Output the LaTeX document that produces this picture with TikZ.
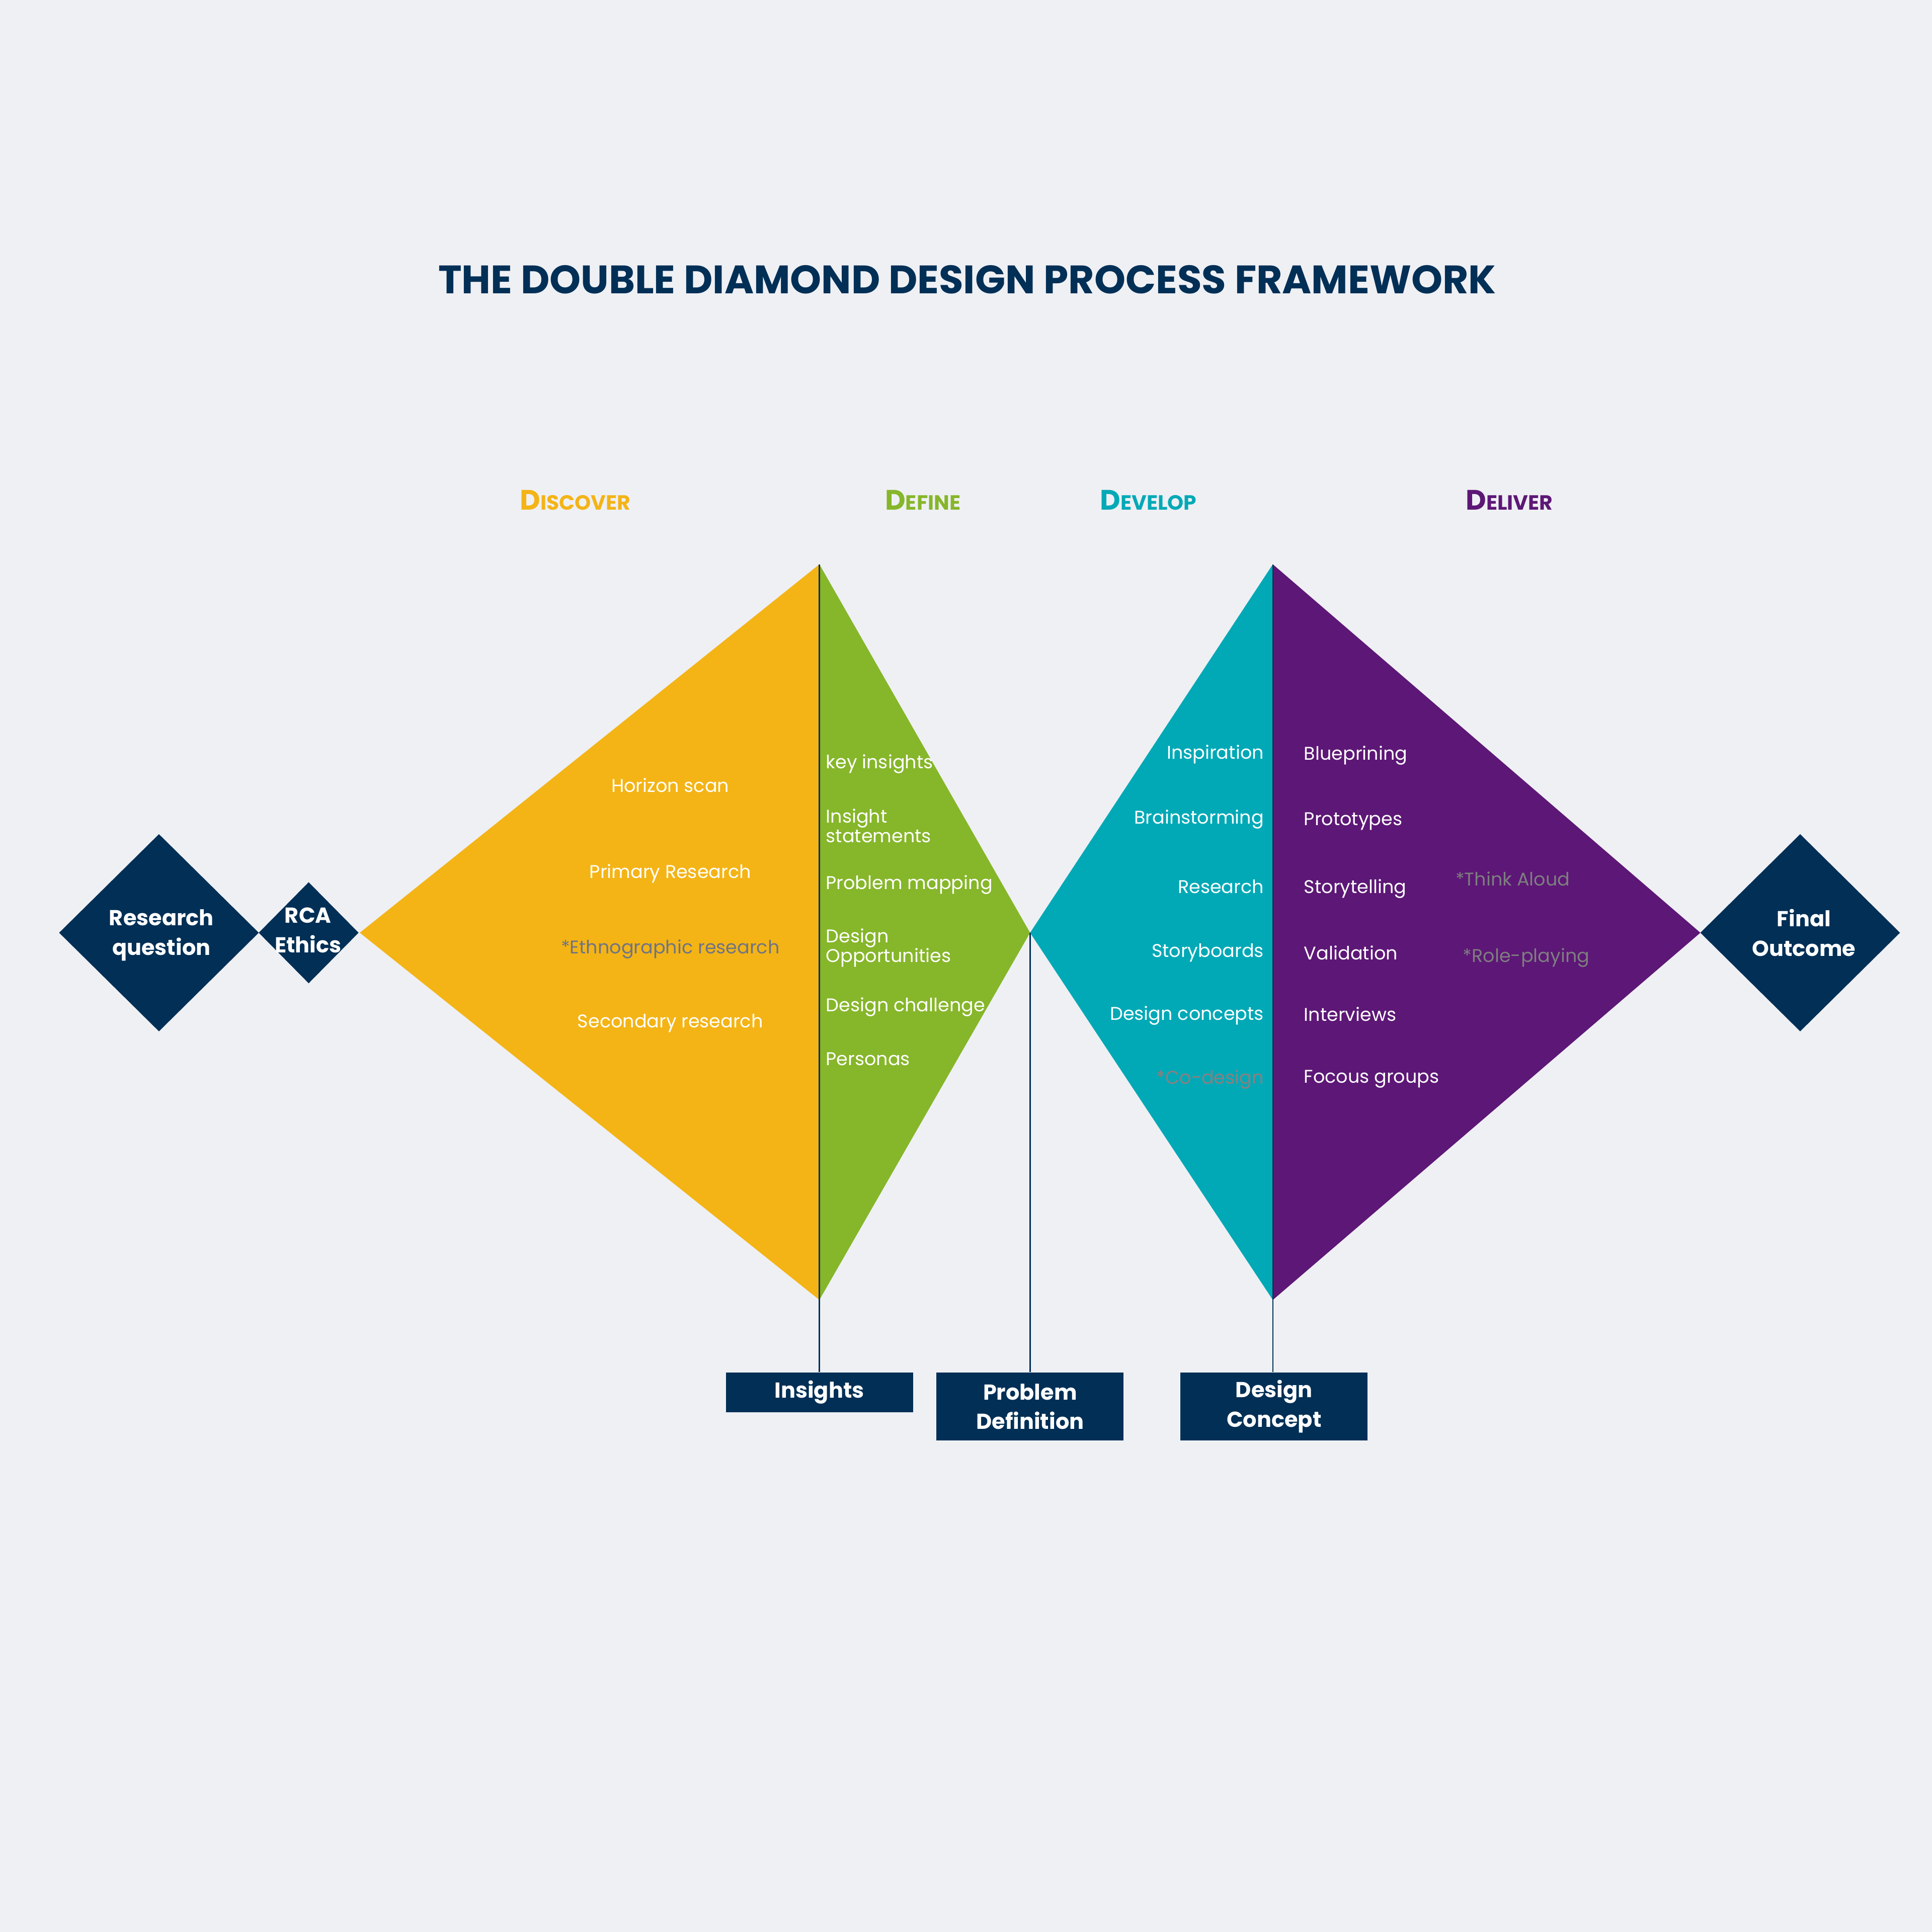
\documentclass[tikz,border=0pt]{standalone}
\usepackage{fontspec}
\setmainfont{Poppins}
\definecolor{bg}{HTML}{EFF0F4}
\definecolor{navy}{HTML}{012F56}
\definecolor{dorange}{HTML}{F4B416}
\definecolor{dgreen}{HTML}{86B62A}
\definecolor{dteal}{HTML}{01A9B6}
\definecolor{dpurple}{HTML}{5D1776}
\definecolor{greytxt}{HTML}{6F7484}
\definecolor{greytxtb}{HTML}{7E7E80}
\definecolor{redgrey}{HTML}{8C7F80}
\newcommand{\phcap}[1]{{\fontsize{13}{13}\selectfont #1}}
\tikzset{
  item/.style={text=white, font=\fontsize{8.5}{9}\selectfont, inner sep=0pt, align=left},
  litem/.style={item, anchor=mid west},
  ritem/.style={item, anchor=mid east, align=right},
  citem/.style={item, anchor=mid, align=center},
  lab/.style={text=white, font=\bfseries\fontsize{10}{13.6}\selectfont, align=center, inner sep=0pt},
  phase/.style={font=\bfseries\fontsize{9.5}{10}\selectfont, inner sep=0pt, anchor=base},
  outbox/.style={fill=navy, minimum width=3.04cm, inner sep=0pt, text=white,
     font=\bfseries\fontsize{10}{13.6}\selectfont, align=center},
  tick/.style={draw=navy, line width=0.6pt},
}
\begin{document}
\begin{tikzpicture}[x=0.02cm,y=-0.02cm]
\fill[bg] (0,0) rectangle (1568,1568);
\useasboundingbox (0,0) rectangle (1568,1568);

% key points
\coordinate (aL) at (292,757);
\coordinate (aT) at (665,458);
\coordinate (aB) at (665,1055);
\coordinate (aR) at (836,757);
\coordinate (bT) at (1033,458);
\coordinate (bB) at (1033,1055);
\coordinate (bR) at (1380,757);

% title
\node[text=navy, font=\bfseries\fontsize{18.35}{20}\selectfont, inner sep=0pt] (title) at (785,227) {THE DOUBLE DIAMOND DESIGN PROCESS FRAMEWORK};

% phase labels
\node[phase, text=dorange] (discover) at (467,414) {\phcap{D}ISCOVER};
\node[phase, text=dgreen] (define) at (749,414) {\phcap{D}EFINE};
\node[phase, text=dteal] (develop) at (932,414) {\phcap{D}EVELOP};
\node[phase, text=dpurple] (deliver) at (1225,414) {\phcap{D}ELIVER};

% diamonds
\fill[dorange] (aL) -- (aT) -- (aB) -- cycle;
\fill[dgreen] (aT) -- (aR) -- (aB) -- cycle;
\fill[dteal] (aR) -- (bT) -- (bB) -- cycle;
\fill[dpurple] (bT) -- (bR) -- (bB) -- cycle;

% small diamonds
\fill[navy] (48,757) -- (129,677) -- (210,757) -- (129,837) -- cycle;
\fill[navy] (210,757) -- (250.5,716) -- (291,757) -- (250.5,798) -- cycle;
\fill[navy] (1380,757) -- (1461,677) -- (1542,757) -- (1461,837) -- cycle;
\node[lab] (rq) at (131,759) {Research\\question};
\node[lab] (rca) at (250,755) {RCA\\Ethics};
\node[lab] (fo) at (1464,757) {Final\\Outcome};

% boxes
\node[outbox, minimum height=0.64cm] (ins) at (665,1130) {Insights};
\node[outbox, minimum height=1.1cm] (pd) at (836,1141.5) {Problem\\Definition};
\node[outbox, minimum height=1.1cm] (dc) at (1034,1141.5) {Design\\Concept};

% connectors
\draw[tick] (aT) -- (aB) -- (ins.north);
\draw[tick] (aR) -- (pd.north);
\draw[tick] (bT) -- (bB) -- (bB |- dc.north);

% discover items
\node[citem] (hs) at (544,638) {Horizon scan};
\node[citem] (pr) at (544,708) {Primary Research};
\node[citem, text=greytxt] (eth) at (544,769) {*Ethnographic research};
\node[citem] (sr) at (544,829) {Secondary research};

% define items
\node[litem] (ki) at (670,619) {key insights};
\node[litem] (is) at (670,679) {Insight\\statements};
\node[litem] (pm) at (670,717) {Problem mapping};
\node[litem] (do) at (670,776) {Design\\Opportunities};
\node[litem] (dch) at (670,816) {Design challenge};
\node[litem] (pe) at (670,860) {Personas};

% develop items
\node[ritem] (insp) at (1026,611) {Inspiration};
\node[ritem] (brain) at (1026,664) {Brainstorming};
\node[ritem] (res) at (1026,720) {Research};
\node[ritem] (sb) at (1026,772) {Storyboards};
\node[ritem] (dcon) at (1026,823) {Design concepts};
\node[ritem, text=redgrey] (cod) at (1026,875) {*Co-design};

% deliver items
\node[litem] (bp) at (1058,612) {Blueprining};
\node[litem] (pt) at (1058,665) {Prototypes};
\node[litem] (st) at (1058,720) {Storytelling};
\node[litem] (va) at (1058,774) {Validation};
\node[litem] (iv) at (1058,824) {Interviews};
\node[litem] (fg) at (1058,874) {Focous groups};
\node[litem, text=greytxtb] (ta) at (1181,714) {*Think Aloud};
\node[litem, text=greytxtb] (rp) at (1187,776) {*Role-playing};
\end{tikzpicture}
\end{document}
